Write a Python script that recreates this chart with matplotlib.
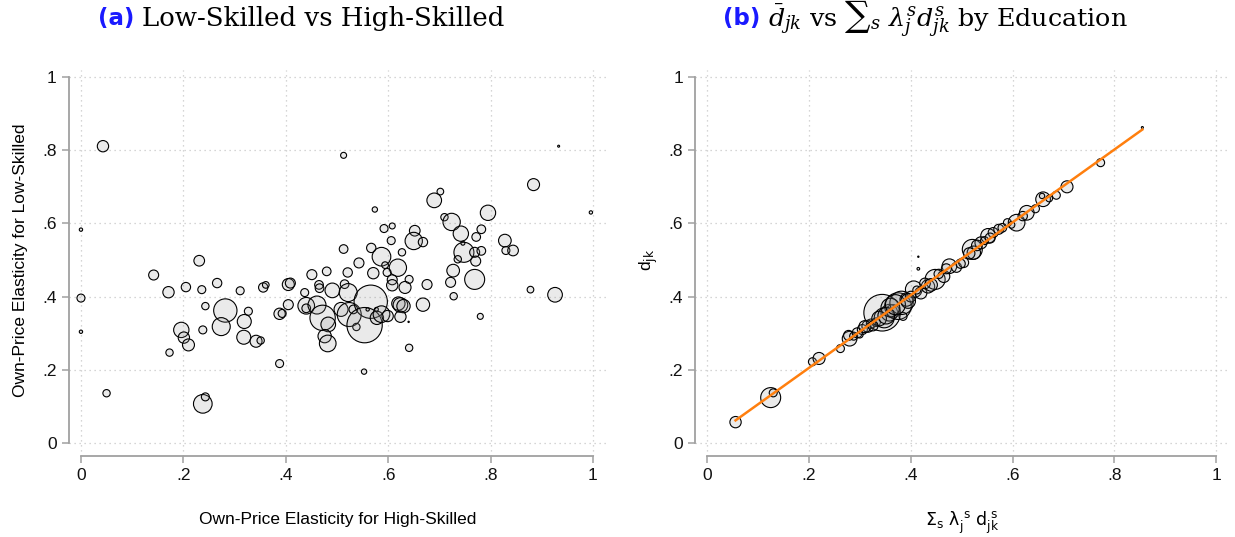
import numpy as np
import matplotlib
matplotlib.use('Agg')
import matplotlib.pyplot as plt

# panel (a): own-price elasticities, bubble weight = employment
hs_elast = [0.043, 0.513, 0.933, 0.996, 0.000, 0.000, 0.000, 0.050, 0.238, 0.243,
            0.388, 0.553, 0.641, 0.173, 0.142, 0.171, 0.205, 0.231, 0.236, 0.266,
            0.243, 0.196, 0.201, 0.210, 0.238, 0.282, 0.274, 0.311, 0.327, 0.319,
            0.318, 0.342, 0.351, 0.356, 0.361, 0.388, 0.393, 0.405, 0.409, 0.405,
            0.437, 0.451, 0.440, 0.440, 0.461, 0.465, 0.466, 0.480, 0.472, 0.483,
            0.476, 0.482, 0.491, 0.513, 0.521, 0.515, 0.522, 0.508, 0.524, 0.532,
            0.538, 0.543, 0.566, 0.554, 0.560, 0.567, 0.571, 0.574, 0.577, 0.578,
            0.587, 0.587, 0.592, 0.594, 0.598, 0.599, 0.606, 0.608, 0.619, 0.608,
            0.608, 0.620, 0.624, 0.630, 0.624, 0.627, 0.641, 0.633, 0.640, 0.652,
            0.650, 0.668, 0.676, 0.668, 0.690, 0.702, 0.710, 0.724, 0.742, 0.748,
            0.746, 0.736, 0.727, 0.722, 0.728, 0.772, 0.782, 0.769, 0.782, 0.771,
            0.769, 0.780, 0.795, 0.828, 0.830, 0.844, 0.884, 0.878, 0.926]
ls_elast = [0.811, 0.786, 0.811, 0.630, 0.583, 0.396, 0.304, 0.136, 0.107, 0.126,
            0.217, 0.195, 0.260, 0.247, 0.459, 0.412, 0.426, 0.498, 0.419, 0.437,
            0.374, 0.309, 0.288, 0.268, 0.309, 0.362, 0.318, 0.416, 0.360, 0.332,
            0.289, 0.278, 0.280, 0.425, 0.432, 0.353, 0.354, 0.433, 0.437, 0.378,
            0.411, 0.460, 0.375, 0.368, 0.377, 0.432, 0.423, 0.469, 0.342, 0.324,
            0.292, 0.272, 0.417, 0.530, 0.466, 0.434, 0.411, 0.365, 0.351, 0.365,
            0.317, 0.492, 0.386, 0.322, 0.365, 0.533, 0.464, 0.638, 0.365, 0.342,
            0.509, 0.352, 0.586, 0.486, 0.466, 0.347, 0.553, 0.593, 0.479, 0.446,
            0.431, 0.381, 0.377, 0.374, 0.345, 0.521, 0.447, 0.425, 0.331, 0.580,
            0.552, 0.549, 0.433, 0.378, 0.663, 0.687, 0.617, 0.604, 0.572, 0.521,
            0.546, 0.502, 0.471, 0.439, 0.401, 0.563, 0.584, 0.521, 0.525, 0.497,
            0.447, 0.346, 0.629, 0.553, 0.526, 0.526, 0.706, 0.419, 0.405]
emp_a = [2.89, 0.81, 0.09, 0.25, 0.25, 1.44, 0.25, 1.21, 7.84, 1.44,
         1.44, 0.64, 1.21, 1.21, 2.25, 2.89, 1.96, 2.56, 1.44, 1.96,
         1.21, 5.29, 2.89, 3.24, 1.44, 12.25, 7.29, 1.44, 1.44, 4.41,
         4.41, 3.24, 1.21, 1.96, 1.00, 2.89, 1.44, 3.24, 2.25, 2.25,
         1.44, 2.25, 6.25, 1.69, 7.29, 1.69, 1.69, 1.69, 14.44, 4.84,
         4.00, 6.25, 4.84, 1.69, 1.96, 1.69, 7.29, 4.41, 12.96, 1.69,
         1.21, 2.25, 25.00, 28.09, 0.25, 1.96, 2.89, 0.64, 0.36, 4.00,
         7.84, 6.25, 1.44, 1.00, 1.44, 2.89, 1.44, 0.81, 6.76, 2.25,
         2.89, 4.00, 4.84, 4.00, 2.89, 1.21, 1.44, 3.24, 0.04, 2.56,
         6.76, 1.96, 2.25, 4.00, 4.84, 1.00, 1.21, 6.76, 5.29, 9.00,
         0.36, 1.21, 3.61, 2.25, 1.21, 1.69, 1.69, 2.25, 1.69, 2.25,
         9.00, 0.81, 5.29, 3.61, 1.44, 2.56, 3.24, 1.00, 4.84]

# panel (b): weighted sum over education groups vs pooled d_jk
d_sum = [0.056, 0.125, 0.130, 0.207, 0.220, 0.262, 0.280, 0.278, 0.288, 0.295,
         0.305, 0.316, 0.322, 0.332, 0.344, 0.348, 0.358, 0.365, 0.375, 0.385,
         0.382, 0.392, 0.406, 0.415, 0.415, 0.420, 0.434, 0.448, 0.465, 0.476,
         0.490, 0.504, 0.521, 0.524, 0.538, 0.552, 0.562, 0.573, 0.590, 0.608,
         0.628, 0.660, 0.658, 0.686, 0.707, 0.773, 0.855,
         0.300, 0.338, 0.360, 0.400, 0.412, 0.455, 0.530, 0.545, 0.598, 0.620,
         0.310, 0.326, 0.352, 0.370, 0.395, 0.428, 0.440, 0.470, 0.498, 0.515,
         0.556, 0.580, 0.645, 0.672]
d_pool = [0.057, 0.124, 0.137, 0.222, 0.231, 0.258, 0.285, 0.294, 0.292, 0.301,
          0.310, 0.319, 0.326, 0.330, 0.356, 0.342, 0.356, 0.360, 0.374, 0.346,
          0.383, 0.392, 0.420, 0.476, 0.509, 0.410, 0.428, 0.447, 0.455, 0.483,
          0.480, 0.493, 0.529, 0.520, 0.547, 0.566, 0.575, 0.584, 0.602, 0.602,
          0.629, 0.666, 0.675, 0.677, 0.700, 0.766, 0.862,
          0.296, 0.340, 0.370, 0.400, 0.418, 0.462, 0.540, 0.553, 0.596, 0.620,
          0.318, 0.320, 0.348, 0.378, 0.388, 0.436, 0.432, 0.476, 0.490, 0.518,
          0.560, 0.588, 0.640, 0.668]
emp_b = [2.89, 9.00, 1.44, 1.44, 3.24, 1.44, 4.84, 2.25, 1.44, 2.25,
         2.25, 3.24, 1.96, 1.69, 30.25, 9.00, 6.25, 4.00, 16.00, 1.44,
         12.25, 4.00, 6.25, 0.16, 0.04, 3.24, 4.00, 9.00, 3.24, 4.84,
         2.25, 2.25, 9.00, 4.00, 3.24, 4.84, 2.25, 2.25, 1.44, 6.25,
         4.84, 4.84, 0.64, 1.44, 3.24, 1.44, 0.09,
         1.00, 4.84, 7.84, 2.56, 1.44, 1.96, 2.56, 1.44, 1.00, 1.96,
         3.24, 2.25, 6.25, 9.00, 4.84, 2.56, 3.61, 2.25, 1.96, 2.89,
         2.25, 1.69, 1.44, 1.00]

ticks = [0, 0.2, 0.4, 0.6, 0.8, 1]
tick_labels = ['0', '.2', '.4', '.6', '.8', '1']

plt.rcParams['font.family'] = ['Liberation Sans', 'DejaVu Sans']

fig = plt.figure(figsize=(12.35, 5.37), dpi=100)
ax1 = fig.add_axes([0.0556, 0.1512, 0.4357, 0.719])
ax2 = fig.add_axes([0.5626, 0.1512, 0.4333, 0.719])

bubble_face = (0.55, 0.55, 0.55, 0.18)
k = 23.0  # area scale for weights

for ax in (ax1, ax2):
    ax.set_xlim(-0.024, 1.027)
    ax.set_ylim(-0.035, 1.02)
    ax.set_xticks(ticks)
    ax.set_xticklabels(tick_labels)
    ax.set_yticks(ticks)
    ax.set_yticklabels(tick_labels)
    ax.spines['top'].set_visible(False)
    ax.spines['right'].set_visible(False)
    for sp in ('left', 'bottom'):
        ax.spines[sp].set_color('#a0a0a0')
        ax.spines[sp].set_linewidth(1.3)
        ax.spines[sp].set_bounds(0, 1)
    ax.tick_params(colors='#a0a0a0', labelcolor='#111111', labelsize=12.5,
                   length=5, width=1.1)
    ax.grid(True, linestyle=(0, (1, 3)), color='#c8c8c8', linewidth=0.9)
    ax.set_axisbelow(True)

ax1.scatter(hs_elast, ls_elast, s=np.array(emp_a) * k, facecolor=bubble_face,
            edgecolor='black', linewidth=0.8, clip_on=False, zorder=3)
ax1.set_xlabel('Own-Price Elasticity for High-Skilled', fontsize=12.5)
ax1.set_ylabel('Own-Price Elasticity for Low-Skilled', fontsize=12.5)
ax1.xaxis.set_label_coords(0.5, -0.145)
ax1.yaxis.set_label_coords(-0.076, 0.507)

ax2.scatter(d_sum, d_pool, s=np.array(emp_b) * k, facecolor=bubble_face,
            edgecolor='black', linewidth=0.8, clip_on=False, zorder=3)
b, a = np.polyfit(d_sum, d_pool, 1)
xl = np.array([min(d_sum), max(d_sum)])
ax2.plot(xl, a + b * xl, color='#ff7f0e', linewidth=1.8, zorder=4)
ax2.set_xlabel(r'$\Sigma_\mathrm{s}\ \mathrm{\lambda}_\mathrm{j}^{\ \mathrm{s}}\ \mathrm{d}_\mathrm{jk}^{\ \mathrm{s}}$',
               fontsize=12.5, math_fontfamily='dejavusans')
ax2.set_ylabel(r'd$_\mathrm{jk}$', fontsize=12.5, math_fontfamily='dejavusans')
ax2.xaxis.set_label_coords(0.5, -0.14)
ax2.yaxis.set_label_coords(-0.065, 0.507)

# titles
fig.text(134 / 1235, 0.965, '(a)', color='#1a1aff', fontsize=16.5, fontweight='bold',
         ha='right', va='center', family='DejaVu Sans')
fig.text(142 / 1235, 0.965, 'Low-Skilled vs High-Skilled', fontsize=18.7,
         ha='left', va='center', family='DejaVu Serif')
fig.text(760 / 1235, 0.965, '(b)', color='#1a1aff', fontsize=16.5, fontweight='bold',
         ha='right', va='center', family='DejaVu Sans')
fig.text(768 / 1235, 0.965,
         r'$\bar{d}_{jk}$ vs ${\sum}_{s}\ \lambda^{s}_{j} d^{s}_{jk}$ by Education',
         fontsize=18.3, ha='left', va='center', family='DejaVu Serif',
         math_fontfamily='dejavuserif')

fig.savefig('out.png', dpi=100)
